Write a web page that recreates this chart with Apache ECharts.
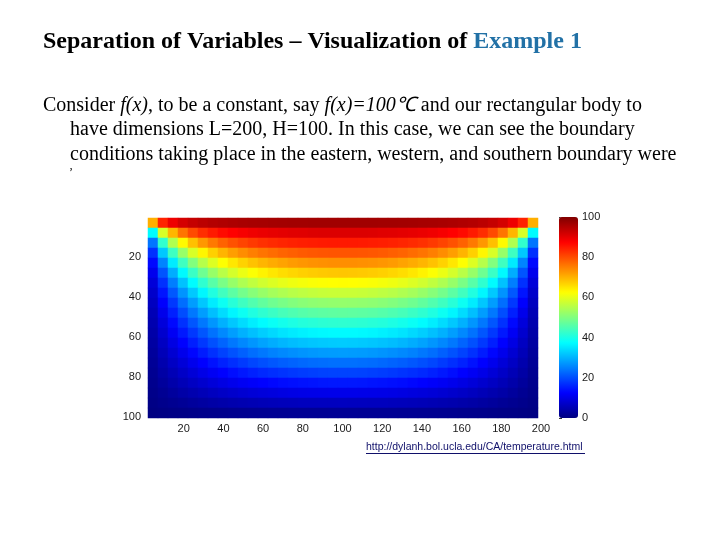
<!DOCTYPE html>
<html>
<head>
<meta charset="utf-8">
<script src="https://cdn.jsdelivr.net/npm/echarts@6/dist/echarts.min.js"></script>
<style>
html,body{margin:0;padding:0;background:#fff;}
#chart{width:720px;height:540px;}
</style>
</head>
<body>
<div id="chart"></div>
<script>
// Column centres (x) and row centres (depth from the hot top edge, y)
const xCenters = [5,10,15,20,25,30,35,40,45,50,55,60,65,70,75,80,85,90,95,100,
                  105,110,115,120,125,130,135,140,145,150,155,160,165,170,175,180,185,190,195];
const yCenters = [2.5,7.5,12.5,17.5,22.5,27.5,32.5,37.5,42.5,47.5,52.5,57.5,62.5,67.5,72.5,77.5,82.5,87.5,92.5,97.5];

// Temperature values (°C) read row by row, top (y≈2.5) to bottom (y≈97.5), x = 5 … 195
const row01 = [70.4,84.2,89.2,91.7,93.2,94.2,94.9,95.3,95.7,96.0,96.2,96.3,96.5,96.6,96.7,96.7,96.8,96.8,96.8,96.8,96.8,96.8,96.8,96.7,96.7,96.6,96.5,96.3,96.2,96.0,95.7,95.3,94.9,94.2,93.2,91.7,89.2,84.2,70.4];
const row02 = [37.2,58.6,69.8,76.2,80.3,83.1,85.0,86.5,87.5,88.3,89.0,89.5,89.9,90.2,90.5,90.6,90.8,90.9,90.9,90.9,90.9,90.9,90.8,90.6,90.5,90.2,89.9,89.5,89.0,88.3,87.5,86.5,85.0,83.1,80.3,76.2,69.8,58.6,37.2];
const row03 = [23.9,42.3,54.7,63.0,68.7,72.7,75.7,77.9,79.6,80.9,81.9,82.8,83.4,83.9,84.3,84.6,84.8,85.0,85.1,85.1,85.1,85.0,84.8,84.6,84.3,83.9,83.4,82.8,81.9,80.9,79.6,77.9,75.7,72.7,68.7,63.0,54.7,42.3,23.9];
const row04 = [17.2,32.1,43.6,52.3,58.7,63.4,67.1,69.9,72.0,73.7,75.1,76.2,77.0,77.7,78.2,78.7,79.0,79.2,79.3,79.3,79.3,79.2,79.0,78.7,78.2,77.7,77.0,76.2,75.1,73.7,72.0,69.9,67.1,63.4,58.7,52.3,43.6,32.1,17.2];
const row05 = [13.3,25.4,35.5,43.7,50.2,55.3,59.2,62.4,64.9,66.9,68.5,69.8,70.8,71.6,72.3,72.8,73.2,73.4,73.6,73.6,73.6,73.4,73.2,72.8,72.3,71.6,70.8,69.8,68.5,66.9,64.9,62.4,59.2,55.3,50.2,43.7,35.5,25.4,13.3];
const row06 = [10.7,20.7,29.4,37.0,43.2,48.2,52.3,55.6,58.3,60.5,62.2,63.7,64.9,65.8,66.5,67.1,67.5,67.8,68.0,68.1,68.0,67.8,67.5,67.1,66.5,65.8,64.9,63.7,62.2,60.5,58.3,55.6,52.3,48.2,43.2,37.0,29.4,20.7,10.7];
const row07 = [8.8,17.2,24.8,31.5,37.2,42.1,46.1,49.4,52.2,54.5,56.3,57.9,59.1,60.1,60.9,61.5,62.0,62.3,62.5,62.6,62.5,62.3,62.0,61.5,60.9,60.1,59.1,57.9,56.3,54.5,52.2,49.4,46.1,42.1,37.2,31.5,24.8,17.2,8.8];
const row08 = [7.4,14.5,21.1,27.0,32.2,36.7,40.6,43.8,46.5,48.8,50.7,52.3,53.6,54.6,55.5,56.1,56.6,57.0,57.2,57.2,57.2,57.0,56.6,56.1,55.5,54.6,53.6,52.3,50.7,48.8,46.5,43.8,40.6,36.7,32.2,27.0,21.1,14.5,7.4];
const row09 = [6.3,12.3,18.0,23.2,27.9,32.0,35.6,38.7,41.3,43.6,45.4,47.0,48.3,49.3,50.2,50.9,51.4,51.7,51.9,52.0,51.9,51.7,51.4,50.9,50.2,49.3,48.3,47.0,45.4,43.6,41.3,38.7,35.6,32.0,27.9,23.2,18.0,12.3,6.3];
const row10 = [5.3,10.5,15.5,20.0,24.2,27.9,31.2,34.1,36.6,38.7,40.5,42.0,43.2,44.3,45.1,45.8,46.3,46.6,46.8,46.9,46.8,46.6,46.3,45.8,45.1,44.3,43.2,42.0,40.5,38.7,36.6,34.1,31.2,27.9,24.2,20.0,15.5,10.5,5.3];
const row11 = [4.6,9.0,13.3,17.3,20.9,24.2,27.2,29.8,32.1,34.1,35.8,37.2,38.4,39.4,40.2,40.9,41.3,41.7,41.9,42.0,41.9,41.7,41.3,40.9,40.2,39.4,38.4,37.2,35.8,34.1,32.1,29.8,27.2,24.2,20.9,17.3,13.3,9.0,4.6];
const row12 = [3.9,7.7,11.4,14.8,18.0,20.9,23.6,25.9,28.0,29.8,31.3,32.7,33.8,34.8,35.5,36.1,36.6,36.9,37.1,37.1,37.1,36.9,36.6,36.1,35.5,34.8,33.8,32.7,31.3,29.8,28.0,25.9,23.6,20.9,18.0,14.8,11.4,7.7,3.9];
const row13 = [3.3,6.5,9.7,12.6,15.4,18.0,20.3,22.3,24.2,25.8,27.2,28.4,29.4,30.3,31.0,31.5,31.9,32.2,32.4,32.5,32.4,32.2,31.9,31.5,31.0,30.3,29.4,28.4,27.2,25.8,24.2,22.3,20.3,18.0,15.4,12.6,9.7,6.5,3.3];
const row14 = [2.8,5.5,8.1,10.6,13.0,15.1,17.2,18.9,20.5,21.9,23.2,24.2,25.2,25.9,26.5,27.0,27.4,27.7,27.8,27.9,27.8,27.7,27.4,27.0,26.5,25.9,25.2,24.2,23.2,21.9,20.5,18.9,17.2,15.1,13.0,10.6,8.1,5.5,2.8];
const row15 = [2.3,4.5,6.7,8.7,10.7,12.5,14.2,15.7,17.0,18.2,19.3,20.2,21.0,21.7,22.2,22.7,23.0,23.2,23.4,23.4,23.4,23.2,23.0,22.7,22.2,21.7,21.0,20.2,19.3,18.2,17.0,15.7,14.2,12.5,10.7,8.7,6.7,4.5,2.3];
const row16 = [1.8,3.6,5.3,7.0,8.6,10.1,11.4,12.6,13.8,14.7,15.6,16.4,17.0,17.5,18.0,18.4,18.7,18.9,19.0,19.0,19.0,18.9,18.7,18.4,18.0,17.5,17.0,16.4,15.6,14.7,13.8,12.6,11.4,10.1,8.6,7.0,5.3,3.6,1.8];
const row17 = [1.4,2.8,4.1,5.4,6.6,7.7,8.8,9.7,10.6,11.4,12.0,12.6,13.1,13.6,13.9,14.2,14.4,14.6,14.7,14.7,14.7,14.6,14.4,14.2,13.9,13.6,13.1,12.6,12.0,11.4,10.6,9.7,8.8,7.7,6.6,5.4,4.1,2.8,1.4];
const row18 = [1.0,1.9,2.9,3.8,4.6,5.4,6.2,6.9,7.5,8.1,8.6,9.0,9.3,9.6,9.9,10.1,10.2,10.3,10.4,10.4,10.4,10.3,10.2,10.1,9.9,9.6,9.3,9.0,8.6,8.1,7.5,6.9,6.2,5.4,4.6,3.8,2.9,1.9,1.0];
const row19 = [0.6,1.2,1.7,2.2,2.8,3.2,3.7,4.1,4.5,4.8,5.1,5.4,5.6,5.8,5.9,6.1,6.1,6.2,6.2,6.3,6.2,6.2,6.1,6.1,5.9,5.8,5.6,5.4,5.1,4.8,4.5,4.1,3.7,3.2,2.8,2.2,1.7,1.2,0.6];
const row20 = [0.2,0.4,0.6,0.7,0.9,1.1,1.2,1.3,1.5,1.6,1.7,1.8,1.9,1.9,2.0,2.0,2.0,2.0,2.1,2.1,2.1,2.0,2.0,2.0,2.0,1.9,1.9,1.8,1.7,1.6,1.5,1.3,1.2,1.1,0.9,0.7,0.6,0.4,0.2];

// Tick labels
const xTickLabels = [20,40,60,80,100,120,140,160,180,200];
const yTickLabels = [20,40,60,80,100];
const cbTickLabels = [0,20,40,60,80,100];

const rows = [row01,row02,row03,row04,row05,row06,row07,row08,row09,row10,
              row11,row12,row13,row14,row15,row16,row17,row18,row19,row20];

const heatData = [];
rows.forEach((row, j) => row.forEach((v, i) => heatData.push([i, j, v])));

const jet = ['#000080','#0000ff','#0080ff','#00ffff','#80ff80','#ffff00','#ff8000','#ff0000','#800000'];

const serif = '"Liberation Serif", "Times New Roman", serif';
const sans = '"Liberation Sans", Arial, sans-serif';

const chart = echarts.init(document.getElementById('chart'), null, {renderer: 'canvas'});

const img = {left: 148, top: 218, width: 390, height: 200};   // image cells (integer px per cell)
const lab = {left: 145, top: 218, width: 397, height: 200};   // tick-label frame
const cb = {left: 559, top: 217, width: 19, height: 201};

const labelStyle = {color: '#1a1a1a', fontFamily: sans, fontSize: 11};

chart.setOption({
  animation: false,
  backgroundColor: '#ffffff',
  grid: [
    {left: img.left, top: img.top, width: img.width, height: img.height},
    {left: lab.left, top: lab.top, width: lab.width, height: lab.height},
    {left: cb.left, top: cb.top, width: cb.width, height: cb.height}
  ],
  xAxis: [
    {type: 'category', gridIndex: 0, data: xCenters, show: false, boundaryGap: true},
    {type: 'value', gridIndex: 1, min: 0.5, max: 200.5,
     axisLine: {show: false}, splitLine: {show: false},
     axisTick: {show: false, customValues: xTickLabels},
     axisLabel: Object.assign({customValues: xTickLabels, margin: 5}, labelStyle)},
    {type: 'value', gridIndex: 2, min: 0, max: 1, show: false}
  ],
  yAxis: [
    {type: 'category', gridIndex: 0, data: yCenters, show: false, inverse: true, boundaryGap: true},
    {type: 'value', gridIndex: 1, min: 0.5, max: 100.5, inverse: true,
     axisLine: {show: false}, splitLine: {show: false},
     axisTick: {show: false, customValues: yTickLabels},
     axisLabel: Object.assign({customValues: yTickLabels, margin: 4}, labelStyle)},
    {type: 'value', gridIndex: 2, min: 0, max: 100, position: 'right', offset: 0,
     axisLine: {show: false}, splitLine: {show: false},
     axisTick: {show: true, inside: false, length: 3, lineStyle: {color: '#333'}, customValues: cbTickLabels},
     axisLabel: Object.assign({customValues: cbTickLabels, margin: 4}, labelStyle)}
  ],
  visualMap: {
    type: 'continuous', min: 0, max: 100, seriesIndex: 0,
    calculable: false, show: true, orient: 'vertical',
    left: cb.left, top: cb.top, itemWidth: cb.width, itemHeight: cb.height,
    padding: 0, text: null, showLabel: false,
    inRange: {color: jet}
  },
  series: [{
    type: 'heatmap', xAxisIndex: 0, yAxisIndex: 0,
    data: heatData, progressive: 0,
    itemStyle: {borderWidth: 0},
    emphasis: {disabled: true}
  }],
  graphic: [
    {type: 'text', left: 43, top: 30, style: {
      text: '{b|Separation of Variables – Visualization of }{c|Example 1}',
      rich: {
        b: {fontFamily: serif, fontWeight: 'bold', fontSize: 24, fill: '#000'},
        c: {fontFamily: serif, fontWeight: 'bold', fontSize: 24, fill: '#2271a6'}
      }}},
    {type: 'text', left: 43, top: 96, style: {
      text: '{n|Consider }{i|f(x)}{n|, to be a constant, say }{i|f(x)=100℃}{n| and our rectangular body to}',
      rich: {
        n: {fontFamily: serif, fontSize: 20, fill: '#000'},
        i: {fontFamily: serif, fontStyle: 'italic', fontSize: 20, fill: '#000'}
      }}},
    {type: 'text', left: 70, top: 120, style: {
      text: 'have dimensions L=200, H=100. In this case, we can see the boundary',
      fontFamily: serif, fontSize: 20, fill: '#000'}},
    {type: 'text', left: 70, top: 145, style: {
      text: 'conditions taking place in the eastern, western, and southern boundary were',
      fontFamily: serif, fontSize: 20, fill: '#000'}},
    {type: 'text', left: 69, top: 167, style: {
      text: '\u02BC', fontFamily: serif, fontSize: 12, fill: '#000'}},
    {type: 'text', left: 366, top: 442, style: {
      text: 'http://dylanh.bol.ucla.edu/CA/temperature.html',
      fontFamily: sans, fontSize: 10.5, fill: '#10106a'}},
    {type: 'line', shape: {x1: 366, y1: 453.5, x2: 585, y2: 453.5},
     style: {stroke: '#10106a', lineWidth: 1}}
  ]
});
</script>
</body>
</html>
